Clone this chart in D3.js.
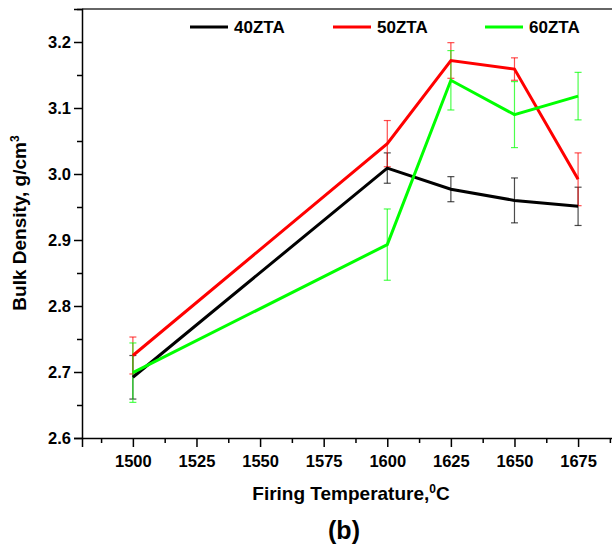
<!DOCTYPE html>
<html lang="en">
<head>
    <meta charset="UTF-8">
    <script src="https://d3js.org/d3.v7.min.js"></script>
    <style>
        body { margin: 0; background: #fff; }
        text { font-family: "Liberation Sans", Arial, sans-serif; font-weight: bold; fill: #000; }
        .tick text { font-size: 16.5px; }
        .domain { stroke: #000; stroke-width: 1.5; }
        .tick line { stroke: #000; stroke-width: 1.5; }
    </style>
</head>
<body>
    <div id="chart"></div>
    <script>
        // Data
        const temps = [1500, 1600, 1625, 1650, 1675];
        const series = ["40ZTA", "50ZTA", "60ZTA"];
        const colors = ["#000000", "#ff0000", "#00ff00"];
        const density40 = [2.692, 3.009, 2.977, 2.960, 2.951];
        const error40 = [0.033, 0.023, 0.019, 0.034, 0.029];
        const density50 = [2.725, 3.046, 3.172, 3.159, 2.992];
        const error50 = [0.028, 0.035, 0.027, 0.017, 0.040];
        const density60 = [2.699, 2.893, 3.142, 3.090, 3.118];
        const error60 = [0.045, 0.054, 0.045, 0.050, 0.036];
        const xTicks = [1500, 1525, 1550, 1575, 1600, 1625, 1650, 1675];
        const xMinor = [1487.5, 1512.5, 1537.5, 1562.5, 1587.5, 1612.5, 1637.5, 1662.5, 1687.5];
        const yTicks = [2.6, 2.7, 2.8, 2.9, 3.0, 3.1, 3.2];
        const yMinor = [2.65, 2.75, 2.85, 2.95, 3.05, 3.15, 3.25];

        const values = [density40, density50, density60];
        const errors = [error40, error50, error60];

        const width = 612;
        const height = 548;
        const plotLeft = 82, plotTop = 8, plotBottom = 438;

        const svg = d3.select("#chart")
            .append("svg")
            .attr("width", width)
            .attr("height", height);

        // Scales
        const x = d3.scaleLinear()
            .domain([1480, 1690])
            .range([plotLeft, plotLeft + 210 * 63.6 / 25]);

        const y = d3.scaleLinear()
            .domain([2.6, 3.25])
            .range([plotBottom, plotBottom - 6.5 * 66]);

        // Top frame line
        svg.append("line")
            .attr("x1", plotLeft).attr("x2", width)
            .attr("y1", y(3.25)).attr("y2", y(3.25))
            .attr("stroke", "#333")
            .attr("stroke-width", 1.5);

        // Axes
        svg.append("g")
            .attr("transform", `translate(0,${plotBottom})`)
            .call(d3.axisBottom(x).tickValues(xMinor).tickSize(5).tickFormat(""))
            .call(g => g.select(".domain").remove());

        svg.append("g")
            .attr("transform", `translate(0,${plotBottom})`)
            .call(d3.axisBottom(x).tickValues(xTicks).tickSize(9).tickPadding(8).tickFormat(d3.format("d")));

        svg.append("g")
            .attr("transform", `translate(${plotLeft},0)`)
            .call(d3.axisLeft(y).tickValues(yMinor).tickSize(5).tickFormat(""))
            .call(g => g.select(".domain").remove());

        svg.append("g")
            .attr("transform", `translate(${plotLeft},0)`)
            .call(d3.axisLeft(y).tickValues(yTicks).tickSize(8).tickPadding(3).tickFormat(d3.format(".1f")));

        // Error bars and lines
        const line = d3.line()
            .x((d, i) => x(temps[i]))
            .y(d => y(d));

        series.forEach((s, k) => {
            const g = svg.append("g");
            temps.forEach((t, i) => {
                const v = values[k][i], e = errors[k][i];
                g.append("line")
                    .attr("x1", x(t)).attr("x2", x(t))
                    .attr("y1", y(v - e)).attr("y2", y(v + e))
                    .attr("stroke", colors[k]).attr("stroke-opacity", 0.7).attr("stroke-width", 1.2);
                [v - e, v + e].forEach(c => {
                    g.append("line")
                        .attr("x1", x(t) - 3.5).attr("x2", x(t) + 3.5)
                        .attr("y1", y(c)).attr("y2", y(c))
                        .attr("stroke", colors[k]).attr("stroke-opacity", 0.7).attr("stroke-width", 1.2);
                });
            });
        });

        series.forEach((s, k) => {
            svg.append("path")
                .datum(values[k])
                .attr("d", line)
                .attr("fill", "none")
                .attr("stroke", colors[k])
                .attr("stroke-width", 3);
        });

        // Legend
        const legendX = [190, 333, 485];
        series.forEach((s, k) => {
            svg.append("line")
                .attr("x1", legendX[k]).attr("x2", legendX[k] + 38)
                .attr("y1", 27).attr("y2", 27)
                .attr("stroke", colors[k]).attr("stroke-width", 3);
            svg.append("text")
                .attr("x", legendX[k] + 44)
                .attr("y", 33)
                .attr("font-size", 17)
                .text(s);
        });

        // Axis titles
        svg.append("text")
            .attr("transform", `translate(26,${(plotTop + plotBottom) / 2}) rotate(-90)`)
            .attr("text-anchor", "middle")
            .attr("font-size", 19)
            .html(`Bulk Density, g/cm<tspan font-size="12" dy="-7">3</tspan>`);

        svg.append("text")
            .attr("x", 351)
            .attr("y", 500)
            .attr("text-anchor", "middle")
            .attr("font-size", 19)
            .html(`Firing Temperature,<tspan font-size="12" dy="-7">0</tspan><tspan dy="7">C</tspan>`);

        svg.append("text")
            .attr("x", 344)
            .attr("y", 539)
            .attr("text-anchor", "middle")
            .attr("font-size", 25)
            .text("(b)");
    </script>
</body>
</html>
